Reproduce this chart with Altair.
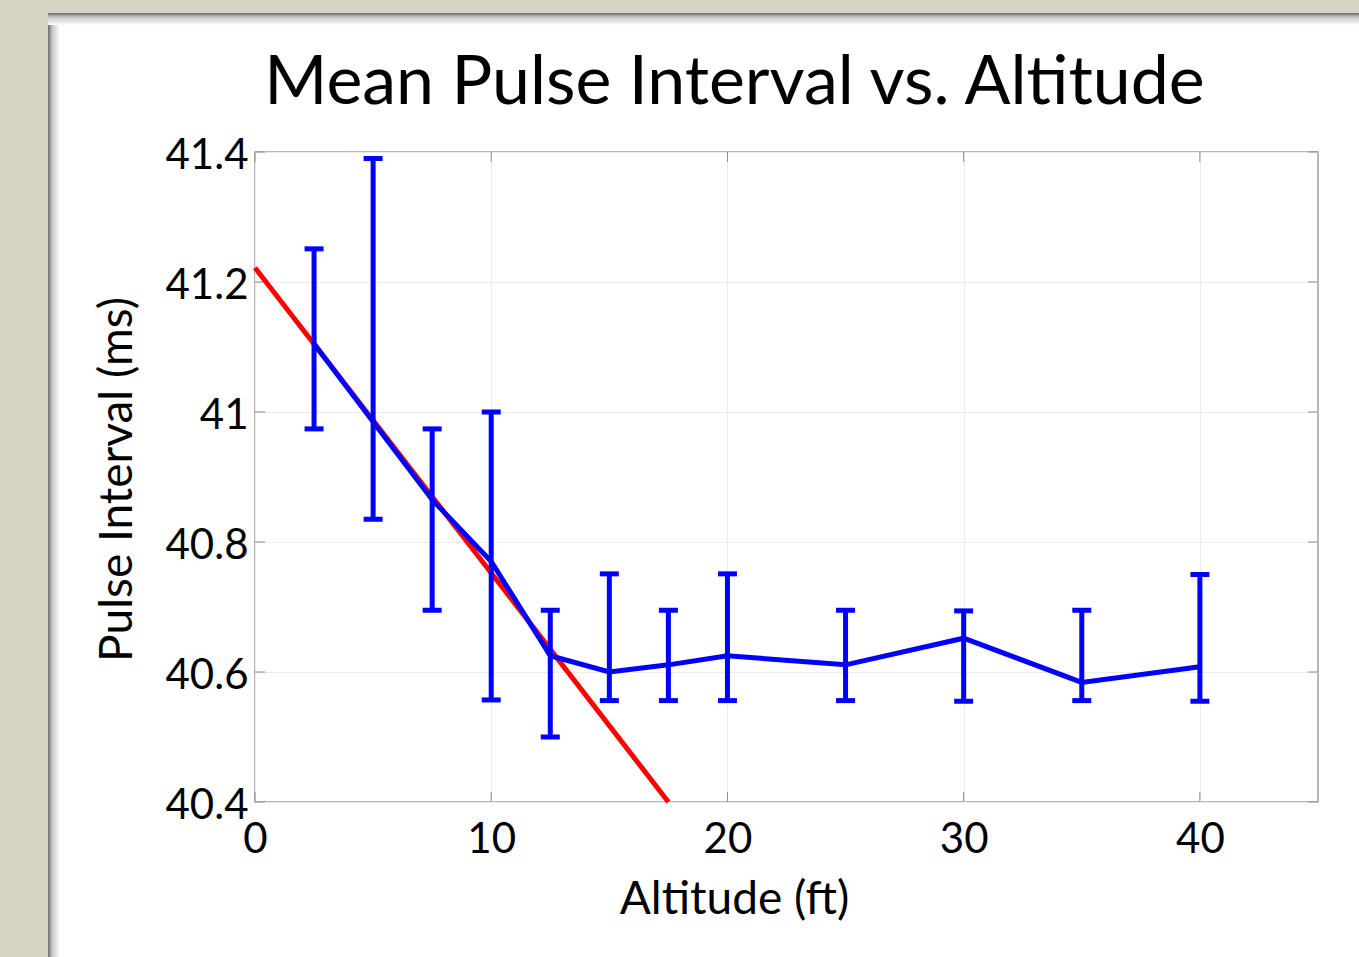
import altair as alt
import pandas as pd

# ---- data ----
altitude = [2.5, 5, 7.5, 10, 12.5, 15, 17.5, 20, 25, 30, 35, 40]
mean_interval = [41.105, 40.985, 40.865, 40.770, 40.625, 40.600, 40.611, 40.625, 40.611, 40.652, 40.584, 40.608]
err_upper = [41.251, 41.390, 40.974, 41.000, 40.695, 40.751, 40.695, 40.751, 40.695, 40.694, 40.695, 40.750]
err_lower = [40.974, 40.835, 40.695, 40.557, 40.500, 40.556, 40.556, 40.556, 40.556, 40.555, 40.556, 40.555]
fit_altitude = [0, 17.5]
fit_interval = [41.222, 40.4]
x_ticks = [0, 10, 20, 30, 40]
y_ticks = [40.4, 40.6, 40.8, 41.0, 41.2, 41.4]

W, H = 1063, 650
FONT = "Lato"

df = pd.DataFrame({"alt": altitude, "mean": mean_interval, "hi": err_upper, "lo": err_lower})
fit = pd.DataFrame({"alt": fit_altitude, "mean": fit_interval})
xt = pd.DataFrame({"alt": x_ticks})
yt = pd.DataFrame({"mean": y_ticks})

xscale = alt.Scale(domain=[0, 45], nice=False, zero=False)
yscale = alt.Scale(domain=[40.4, 41.4], nice=False, zero=False)

xaxis = alt.Axis(values=x_ticks, title="Altitude (ft)", grid=True, gridColor="#ebebeb", gridWidth=1,
                 ticks=False, domain=False, labelFont=FONT, labelFontSize=42, labelColor="black",
                 labelPadding=17, titleFont=FONT, titleFontSize=46, titleFontWeight="normal",
                 titleColor="black", titleX=479, titleY=111, titleBaseline="alphabetic",
                 titleAlign="center", labelFlush=False)
yaxis = alt.Axis(values=y_ticks, title="Pulse Interval (ms)", format=".3~g", grid=True,
                 gridColor="#ebebeb", gridWidth=1, ticks=False, domain=False, labelFont=FONT,
                 labelFontSize=42, labelColor="black", labelPadding=7, labelOffset=3, titleFont=FONT,
                 titleFontSize=46, titleFontWeight="normal", titleColor="black", titleX=-124,
                 titleY=327, titleBaseline="alphabetic", titleAlign="center", labelFlush=False)

X = lambda f: alt.X(f, type="quantitative", scale=xscale, axis=xaxis)
Y = lambda f: alt.Y(f, type="quantitative", scale=yscale, axis=yaxis)

one = alt.Data(values=[{}])

# decorative slide background (beige border + shadow), outside plot area
beige = "#d8d5c5"
left_strip = alt.Chart(one).mark_rect(color=beige).encode(
    x=alt.value(-255), x2=alt.value(-207), y=alt.value(-152), y2=alt.value(H + 155))
top_strip = alt.Chart(one).mark_rect(color=beige).encode(
    x=alt.value(-207), x2=alt.value(W + 41), y=alt.value(-152), y2=alt.value(-139))
left_shadow = alt.Chart(one).mark_rect(
    color=alt.Gradient(gradient="linear", x1=0, x2=1, y1=0, y2=0,
                       stops=[alt.GradientStop(color="#6a6a6a", offset=0),
                              alt.GradientStop(color="#c8c8c8", offset=0.35),
                              alt.GradientStop(color="#ffffff", offset=1)])).encode(
    x=alt.value(-207), x2=alt.value(-195), y=alt.value(-139), y2=alt.value(H + 155))
top_shadow = alt.Chart(one).mark_rect(
    color=alt.Gradient(gradient="linear", x1=0, x2=0, y1=0, y2=1,
                       stops=[alt.GradientStop(color="#6a6a6a", offset=0),
                              alt.GradientStop(color="#c8c8c8", offset=0.35),
                              alt.GradientStop(color="#ffffff", offset=1)])).encode(
    x=alt.value(-207), x2=alt.value(W + 41), y=alt.value(-139), y2=alt.value(-127))

# inward tick marks (MATLAB style)
tick_style = dict(color="#8a8a8a", strokeWidth=1)
xt_bot = alt.Chart(xt).mark_rule(**tick_style).encode(x=X("alt"), y=alt.value(H), y2=alt.value(H - 10))
xt_top = alt.Chart(xt).mark_rule(**tick_style).encode(x=X("alt"), y=alt.value(0), y2=alt.value(10))
yt_left = alt.Chart(yt).mark_rule(**tick_style).encode(y=Y("mean"), x=alt.value(0), x2=alt.value(10))
yt_right = alt.Chart(yt).mark_rule(**tick_style).encode(y=Y("mean"), x=alt.value(W), x2=alt.value(W - 10))

red = alt.Chart(fit).mark_line(color="#ff0000", strokeWidth=5).encode(x=X("alt"), y=Y("mean"))
bars = alt.Chart(df).mark_rule(color="#0000ff", strokeWidth=5).encode(x=X("alt"), y=Y("lo"), y2="hi")
cap_hi = alt.Chart(df).mark_tick(color="#0000ff", orient="horizontal", size=19, thickness=5, opacity=1).encode(
    x=X("alt"), y=Y("hi"))
cap_lo = alt.Chart(df).mark_tick(color="#0000ff", orient="horizontal", size=19, thickness=5, opacity=1).encode(
    x=X("alt"), y=Y("lo"))
line = alt.Chart(df).mark_line(color="#0000ff", strokeWidth=5).encode(x=X("alt"), y=Y("mean"))

chart = alt.layer(
    left_strip, top_strip, left_shadow, top_shadow,
    xt_bot, xt_top, yt_left, yt_right,
    red, bars, cap_hi, cap_lo, line
).properties(
    width=W, height=H,
    title=alt.TitleParams("Mean Pulse Interval vs. Altitude", font=FONT, fontSize=68,
                          fontWeight="normal", color="black", anchor="middle", dx=-52,
                          frame="group", baseline="alphabetic", offset=-172),
    padding={"left": 255, "top": 152, "right": 41, "bottom": 155},
    autosize=alt.AutoSizeParams(type="none"),
    background="white",
).configure_view(stroke="#a0a0a0", strokeWidth=1.5)

chart.save("out.html", embed_options={"renderer": "svg", "actions": False})
